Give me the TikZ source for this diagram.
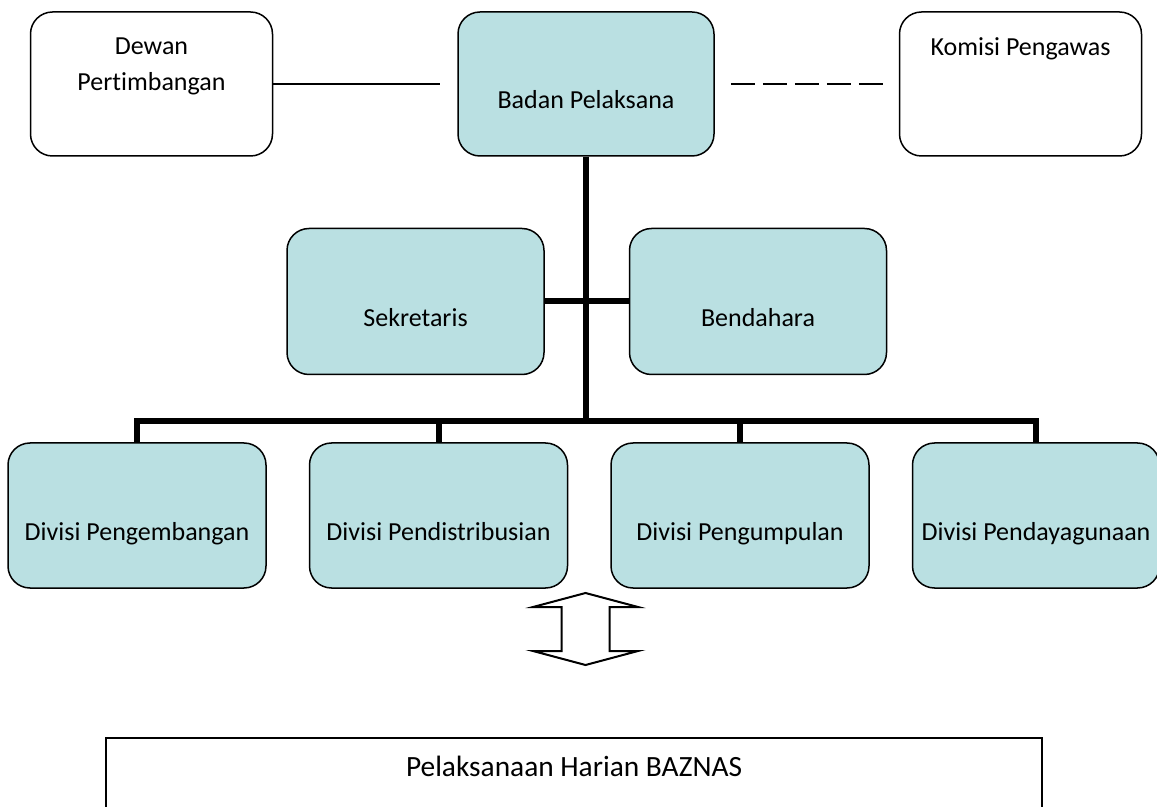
\documentclass[tikz,border=0pt]{standalone}
\usepackage{fontspec}
\setmainfont{Carlito}[Ligatures=NoCommon]
\usetikzlibrary{positioning}
\definecolor{unitfill}{HTML}{BAE0E2}

\begin{document}
\begin{tikzpicture}[
  font=\fontsize{13}{18}\selectfont,
  unit/.style={draw=black,line width=0.75pt,fill=unitfill,rounded corners=11pt,
               minimum width=128pt,minimum height=72pt,inner sep=0pt},
  side/.style={unit,fill=white,minimum width=121pt},
  txt/.style={anchor=center,yshift=-9.5pt,inner sep=0pt,text height=9pt,text depth=3pt},
  toptxt/.style={anchor=north,yshift=-13pt,inner sep=0pt,align=center},
  bus/.style={line width=3pt,line join=miter},
  link/.style={line width=0.75pt},
  hollow/.style={draw=black,fill=white,line width=1pt,line join=miter},
  plainbox/.style={draw=black,fill=white,line width=0.9pt,inner sep=0pt}
]
\useasboundingbox (0,0) rectangle (578.5pt,-403.5pt);
% top row
\node[unit,label={[txt]center:Badan Pelaksana}] (bp) at (293pt,-42pt) {};
\node[side,left=92pt of bp,label={[toptxt]north:Dewan\\Pertimbangan}] (dp) {};
\node[side,right=92pt of bp,label={[toptxt]north:Komisi Pengawas}] (kp) {};
\draw[link] (dp.east) -- ([xshift=-8.5pt]bp.west);
\draw[link,dash pattern=on 12pt off 4pt] ([xshift=8pt]bp.east) -- ([xshift=-8pt]kp.west);
% staff
\node[unit,minimum width=128.5pt,minimum height=73pt,below=35.5pt of bp,xshift=-85.25pt,
      label={[txt]center:Sekretaris}] (sk) {};
\node[unit,minimum width=128.5pt,minimum height=73pt,right=42pt of sk,
      label={[txt]center:Bendahara}] (bd) {};
% divisions
\node[unit,minimum width=129pt,minimum height=72.5pt,
      label={[txt]center:Divisi Pengembangan}] (dv1) at (68.5pt,-257.75pt) {};
\node[unit,minimum width=129pt,minimum height=72.5pt,right=21pt of dv1,
      label={[txt]center:Divisi Pendistribusian}] (dv2) {};
\node[unit,minimum width=129pt,minimum height=72.5pt,right=21pt of dv2,
      label={[txt]center:Divisi Pengumpulan}] (dv3) {};
\node[unit,minimum width=123.5pt,minimum height=72.5pt,right=21pt of dv3,
      label={[txt]center:Divisi Pendayagunaan}] (dv4) {};
% lines
\coordinate[below=132pt of bp.south] (bj);
\draw[bus] (bp.south) -- (bj);
\draw[bus] (sk.east) -- (bd.west);
\draw[bus] (dv1.north) -- (dv1.north |- bj) -- (dv4.north |- bj) -- (dv4.north);
\foreach \dv in {dv2,dv3}
  \draw[bus] (\dv.north) -- (\dv.north |- bj);
% double arrow
\coordinate (ar) at (292.75pt,-314.5pt);
\draw[hollow] (ar) ++(0,18pt) -- ++(26.25pt,-7pt) -- ++(-14.25pt,0) -- ++(0,-22pt)
  -- ++(14.25pt,0) -- ++(-26.25pt,-7pt) -- ++(-26.25pt,7pt) -- ++(14.25pt,0)
  -- ++(0,22pt) -- ++(-14.25pt,0) -- cycle;
% bottom box
\node[plainbox,anchor=north,minimum width=468pt,minimum height=60pt,
      label={[anchor=center,inner sep=0pt,text height=10pt,text depth=3pt,yshift=14pt,
              font=\fontsize{14.7}{18}\selectfont]center:Pelaksanaan Harian BAZNAS}]
      (bz) at (287pt,-368.5pt) {};
\end{tikzpicture}
\end{document}
